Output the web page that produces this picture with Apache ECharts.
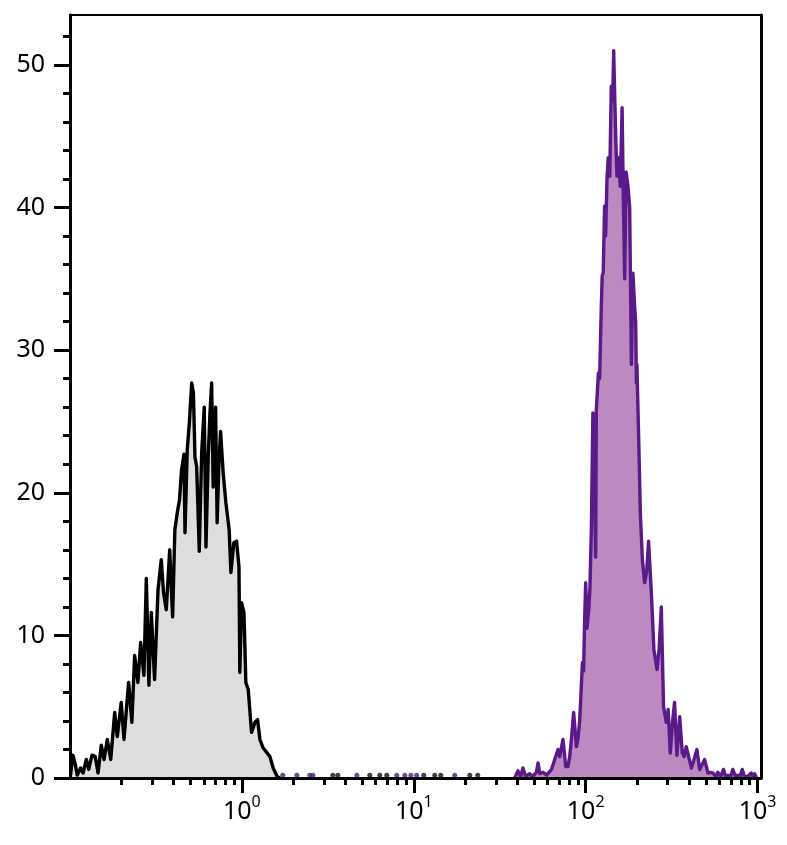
<!DOCTYPE html>
<html><head><meta charset="utf-8">
<script src="https://cdn.jsdelivr.net/npm/echarts@6/dist/echarts.min.js"></script>
<style>html,body{margin:0;padding:0;background:#fff}#c{width:787px;height:845px}</style>
</head><body><div id="c"></div>
<script>
// x values are log10 of fluorescence intensity (decades); y = count
const blackX = [-0.997,-0.983,-0.968,-0.958,-0.938,-0.924,-0.905,-0.891,-0.872,-0.853,
-0.837,-0.818,-0.802,-0.783,-0.763,-0.740,-0.725,-0.702,-0.686,-0.659,
-0.640,-0.624,-0.605,-0.589,-0.570,-0.556,-0.541,-0.527,-0.508,-0.488,
-0.469,-0.456,-0.440,-0.420,-0.403,-0.390,-0.376,-0.363,-0.351,-0.337,
-0.331,-0.318,-0.305,-0.292,-0.282,-0.273,-0.263,-0.248,-0.234,-0.219,
-0.209,-0.196,-0.186,-0.176,-0.167,-0.153,-0.144,-0.134,-0.124,-0.109,
-0.093,-0.074,-0.064,-0.047,-0.031,-0.017,-0.012,-0.002,0.012,0.023,
0.037,0.056,0.076,0.091,0.105,0.124,0.144,0.163,0.182,0.205,0.221];
const blackY = [0.2,1.6,0.9,0.2,0.7,0.35,1.3,0.6,1.6,1.5,
0.35,2.3,1.3,2.7,1.3,4.6,2.9,5.3,2.7,6.7,
3.9,8.6,6.7,9.5,7.2,14.0,6.5,11.6,6.9,13.2,
15.3,13.0,11.8,16.0,11.3,17.4,18.6,19.5,21.6,22.7,
17.2,23.0,25.0,27.7,27.0,22.5,21.8,15.9,22.8,26.0,
16.2,22.5,25.5,27.7,20.4,26.0,17.9,22.0,24.3,21.4,
19.3,17.4,14.4,16.5,16.6,14.8,7.4,12.3,11.6,6.7,
6.2,3.2,3.9,4.1,2.7,2.1,1.8,1.5,0.7,0.1,0];

const purpleX = [1.587,1.606,1.622,1.635,1.651,1.674,1.692,1.713,1.723,1.733,
1.752,1.773,1.801,1.820,1.839,1.849,1.868,1.884,1.897,1.907,
1.917,1.930,1.946,1.955,1.965,1.971,1.981,1.988,1.994,2.000,
2.008,2.019,2.025,2.033,2.042,2.049,2.058,2.062,2.074,2.081,
2.091,2.096,2.102,2.110,2.116,2.124,2.131,2.140,2.149,2.157,
2.163,2.169,2.176,2.182,2.192,2.201,2.212,2.218,2.227,2.235,
2.246,2.256,2.266,2.275,2.285,2.291,2.295,2.298,2.310,2.318,
2.330,2.343,2.355,2.366,2.382,2.397,2.415,2.427,2.440,2.453,
2.469,2.480,2.492,2.506,2.517,2.531,2.547,2.562,2.573,2.585,
2.595,2.615,2.628,2.647,2.663,2.674,2.692,2.702,2.711,2.725,
2.740,2.756,2.769,2.785,2.802,2.814,2.827,2.843,2.856,2.872,
2.885,2.898,2.911,2.924,2.942,2.963,2.974,2.983,2.994];
const purpleY = [0,0.5,0.1,0.7,0.1,0.3,0.1,0.4,1.05,0.3,
0.4,0.2,0.6,1.3,2.0,1.5,2.7,0.8,0.8,1.5,
2.7,4.6,2.2,2.7,4.0,5.5,8.1,7.5,11.1,13.7,
10.5,12.0,13.4,17.4,25.6,22,15.5,25.8,28.4,28,
33.1,35.2,35.4,40.1,38.0,42.0,43.5,42.2,48.5,47.5,
51.0,47.8,44.5,42.2,43.5,41.5,47.0,41.5,35,42.5,
41.5,40,29,35.4,33,32.0,27.7,29,23.0,18.6,
15.3,13.7,14.5,16.6,13.0,9.0,7.6,9.0,12.0,5.0,
3.9,4.8,1.75,4.0,5.3,1.6,4.3,1.75,1.5,2.2,
2.3,0.7,1.2,2.0,0.6,0.6,1.3,1.3,0.35,0.4,
0.35,0.1,0.4,0.1,0.6,0.1,0.2,0.1,0.6,0.1,
0.2,0.1,0.6,0.1,0.1,0.35,0.05,0.3,0];

// isolated single events between the two populations
const purpleEventsX = [0.238,0.320,0.395,0.413,0.669,0.901,0.948,0.983,1.017,1.238];
const purpleEventsY = [0.2,0.2,0.2,0.2,0.2,0.2,0.2,0.2,0.2,0.2];
const blackEventsX = [0.529,0.558,0.744,0.802,0.843,1.058,1.122,1.157,1.326,1.372];
const blackEventsY = [0.2,0.2,0.2,0.2,0.2,0.2,0.2,0.2,0.2,0.2];

// axes
const xDecades = [0,1,2,3];
const xMinorIntensities = [0.2,0.3,0.4,0.5,0.6,0.7,0.8,0.9,2,3,4,5,6,7,8,9,20,30,40,50,60,70,80,90,200,300,400,500,600,700,800,900];
const yMajor = [0,10,20,30,40,50];
const yMinor = [2,4,6,8,12,14,16,18,22,24,26,28,32,34,36,38,42,44,46,48,52];

const FONT = 'Noto Sans';
const xMinorExp = xMinorIntensities.map(v => Math.log10(v));
const pairs = (xs, ys) => xs.map((x, i) => [x, ys[i]]);

const chart = echarts.init(document.getElementById('c'), null, {renderer: 'canvas'});
const xBase = {type: 'value', min: -1, max: 3.02, position: 'bottom', z: 5, splitLine: {show: false}};
const yBase = {type: 'value', min: 0, max: 53.5, z: 5, splitLine: {show: false}};
chart.setOption({
  animation: false,
  backgroundColor: '#fff',
  grid: {left: 70, right: 26, top: 15, bottom: 67, show: true, borderColor: '#000', borderWidth: 2, backgroundColor: 'transparent'},
  xAxis: [
    Object.assign({}, xBase, {
      axisLine: {show: true, onZero: false, lineStyle: {color: '#000', width: 3}},
      axisTick: {show: true, customValues: xDecades, length: 15, lineStyle: {color: '#000', width: 3}},
      axisLabel: {show: true, customValues: xDecades, margin: 16,
        formatter: v => '{b|10}{s|' + v + '}',
        rich: {
          b: {fontFamily: FONT, fontSize: 25, color: '#000', lineHeight: 36},
          s: {fontFamily: FONT, fontSize: 16, color: '#000', verticalAlign: 'top'}
        }}
    }),
    Object.assign({}, xBase, {
      axisLine: {show: false, onZero: false},
      axisTick: {show: true, customValues: xMinorExp, length: 7, lineStyle: {color: '#000', width: 3}},
      axisLabel: {show: false}
    })
  ],
  yAxis: [
    Object.assign({}, yBase, {
      position: 'left',
      axisLine: {show: true, onZero: false, lineStyle: {color: '#000', width: 3}},
      axisTick: {show: true, customValues: yMajor, length: 16, lineStyle: {color: '#000', width: 3}},
      axisLabel: {show: true, customValues: yMajor, margin: 25, fontFamily: FONT, fontSize: 25, color: '#000'}
    }),
    Object.assign({}, yBase, {
      position: 'left',
      axisLine: {show: false, onZero: false},
      axisTick: {show: true, customValues: yMinor, length: 7, lineStyle: {color: '#000', width: 3}},
      axisLabel: {show: false}
    }),
    Object.assign({}, yBase, {
      position: 'right',
      axisLine: {show: true, onZero: false, lineStyle: {color: '#000', width: 3}},
      axisTick: {show: false},
      axisLabel: {show: false}
    })
  ],
  series: [
    {type: 'line', name: 'control', data: pairs(blackX, blackY), showSymbol: false, z: 2,
     lineStyle: {color: '#000', width: 3.4, join: 'round'}, areaStyle: {color: '#dedede', opacity: 1}},
    {type: 'line', name: 'stained', data: pairs(purpleX, purpleY), showSymbol: false, z: 2,
     lineStyle: {color: '#5a1a8a', width: 3.4, join: 'round'}, areaStyle: {color: '#be88c0', opacity: 1}},
    {type: 'scatter', data: pairs(purpleEventsX, purpleEventsY), symbolSize: 5, z: 1,
     itemStyle: {color: '#4a1d7a'}},
    {type: 'scatter', data: pairs(blackEventsX, blackEventsY), symbolSize: 5, z: 1,
     itemStyle: {color: '#111'}}
  ]
});
</script>
</body></html>
